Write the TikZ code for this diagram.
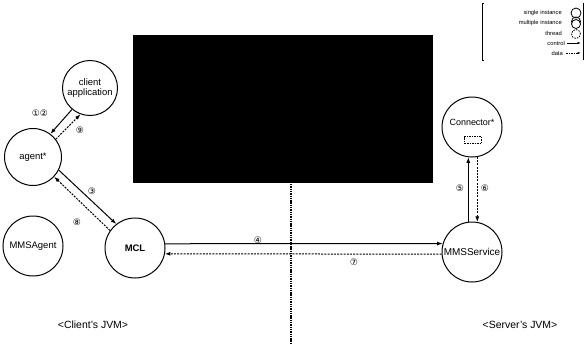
\documentclass[tikz,border=0pt]{standalone}
\usepackage{fontspec}
\setmainfont{Liberation Sans}
\newfontfamily\circfont{DejaVu Sans}
\usetikzlibrary{arrows.meta}

\begin{document}
\begin{tikzpicture}[x=1bp,y=-1bp,
    proc/.style={circle,draw,line width=1bp,minimum size=58bp,inner sep=0pt,
      align=center,font=\fontsize{9.5}{10}\selectfont},
    ctrl/.style={line width=1bp,-{Latex[length=5.5bp,width=4bp]}},
    dataflow/.style={ctrl,dash pattern=on 2bp off 1.2bp},
    num/.style={font=\circfont\fontsize{9}{9}\selectfont,inner sep=0pt},
    legtext/.style={anchor=east,inner sep=0pt,font=\fontsize{5.8}{6}\selectfont},
    jvm/.style={font=\fontsize{10.5}{11}\selectfont}]
    \useasboundingbox (0,0) rectangle (588,344);
    % note panel and JVM border
    \node[fill=black,minimum width=300bp,minimum height=148bp,inner sep=0pt] (notes) at (283,109) {};
    \coordinate (split) at (291,184);
    \coordinate (splitend) at (291,344);
    \draw[line width=1.6bp,dash pattern=on 1.4bp off 0.9bp] (split) -- (splitend);
    % processes
    \node[proc,minimum size=55bp] (client) at (90,88) {client\\application};
    \node[proc,minimum size=57bp] (agent) at (33,157) {agent*};
    \node[proc,minimum size=60bp] (mmsagent) at (33,246) {MMSAgent};
    \node[proc,minimum size=60bp,font=\fontsize{9.5}{10}\selectfont\bfseries] (mcl) at (135,248) {MCL};
    \node[proc,minimum size=60bp,font=\fontsize{10}{10}\selectfont] (mmsservice) at (472,252) {MMSService};
    \node[proc,minimum size=60bp] (connector) at (472,127) {};
    \node[font=\fontsize{9}{9}\selectfont,inner sep=0pt] (connlabel) at (472,122) {Connector*};
    \node[draw,line width=0.7bp,dash pattern=on 1.5bp off 1bp,minimum width=17bp,minimum height=7bp,inner sep=0pt] (slot) at (473,140) {};
    % flows
    \draw[ctrl] (client.-130) -- (agent.53);
    \draw[dataflow] (agent.38) -- (client.-110);
    \draw[ctrl] (agent.-27) -- (mcl.128);
    \draw[dataflow] (mcl.145) -- (agent.-43);
    \draw[ctrl] (mcl.8) -- (mmsservice.164.5);
    \draw[dataflow] (mmsservice.-176) -- (mcl.-11.5);
    \draw[ctrl] (mmsservice.97.7) -- (connector.-97.7);
    \draw[dataflow] (connector.-80.4) -- (mmsservice.80.4);
    % step numbers
    \node[num] (n12) at (40,113) {①②};
    \node[num] (n9) at (80,130) {⑨};
    \node[num] (n3) at (92,191) {③};
    \node[num] (n8) at (77,222) {⑧};
    \node[num] (n4) at (258,240) {④};
    \node[num] (n7) at (354,262) {⑦};
    \node[num] (n5) at (460,188) {⑤};
    \node[num] (n6) at (485,188) {⑥};
    % JVM labels
    \node[jvm] (clientjvm) at (93,325) {<Client's JVM>};
    \node[jvm] (serverjvm) at (520,325) {<Server's JVM>};
    % legend
    \draw[line width=0.7bp] (484,3) -- (482,3) -- (482,60) -- (484,60);
    \draw[line width=0.7bp] (583,3) -- (583,60);
    \node[legtext] (leg1) at (562,13) {single instance};
    \node[legtext] (leg2) at (562,23) {multiple instance};
    \node[legtext] (leg3) at (562,33) {thread};
    \node[legtext] (leg4) at (565,43) {control};
    \node[legtext] (leg5) at (563,53) {data};
    \node[circle,draw,line width=0.8bp,minimum size=10bp,inner sep=0pt] (icon1) at (576,13) {};
    \node[circle,draw,line width=0.8bp,minimum size=9bp,inner sep=0pt] (icon2b) at (576,21.5) {};
    \node[circle,draw,fill=white,line width=0.8bp,minimum size=9bp,inner sep=0pt] (icon2) at (576,24) {};
    \node[circle,draw,line width=0.8bp,dash pattern=on 1.5bp off 1.2bp,minimum size=9bp,inner sep=0pt] (icon3) at (576,34) {};
    \coordinate (c1) at (567,43);
    \coordinate (c2) at (581,43);
    \coordinate (d1) at (566,53);
    \coordinate (d2) at (581,53);
    \draw[line width=0.7bp,-{Latex[length=3.5bp,width=2.5bp]}] (c1) -- (c2);
    \draw[line width=0.7bp,dash pattern=on 1.5bp off 1bp,-{Latex[length=3.5bp,width=2.5bp]}] (d1) -- (d2);
  \end{tikzpicture}
\end{document}
